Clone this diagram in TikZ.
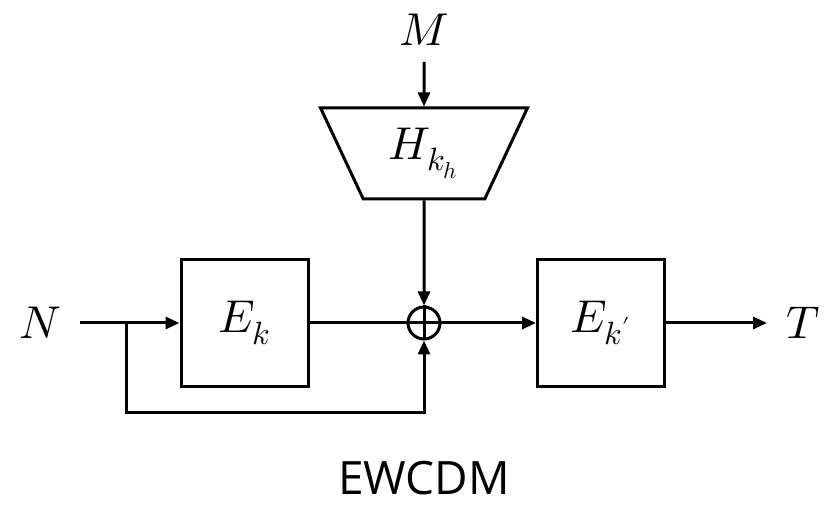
\documentclass[tikz,border=0pt]{standalone}
\usepackage{fontspec}
\usepackage{unicode-math}
\setsansfont{Open Sans}
\usetikzlibrary{shapes.geometric, arrows.meta}

\begin{document}
\begin{tikzpicture}[x=0.5pt, y=-0.5pt, line width=1.5pt,
    >={Triangle[length=7pt, width=6pt]},
    every node/.style={font=\fontsize{23}{27}\selectfont},
    blockbox/.style={draw, minimum width=63.5pt, minimum height=63.5pt, inner sep=0pt},
    hashbox/.style={draw, trapezium, trapezium angle=65, shape border rotate=180,
        trapezium stretches=true, minimum width=103.5pt, minimum height=45.5pt, inner sep=2pt},
    xorop/.style={draw, circle, minimum size=16pt, inner sep=0pt}]
    \useasboundingbox (0,0) rectangle (834,506);

    % inputs and outputs
    \node (msg) at (424,30) {$M$};
    \node (nin) at (40,323) {$N$};
    \node (tag) at (803,323) {$T$};
    \coordinate (msgend) at (424,62);
    \coordinate (inend) at (80,323);
    \coordinate (split) at (126,323);
    \coordinate (loop) at (424,413);
    \coordinate (outend) at (767,323);

    % blocks
    \node[hashbox] (hash) at (424,153.5) {$H_{k_h}$};
    \node[blockbox] (ek) at (244.5,323) {$E_k$};
    \node[blockbox] (ekp) at (601,323) {$E_{k'}$};
    \node[xorop] (xor) at (424,323) {};

    % connectors
    \draw[->] (msgend) -- (hash.north);
    \draw[->] (hash.south) -- (xor.north);
    \draw (inend) -- (split);
    \draw[->] (split) -- (ek.west);
    \draw[->] (split) |- (loop) -- (xor.south);
    \draw (ek.east) -- (xor.west);
    \draw[->] (xor.east) -- (ekp.west);
    \draw[->] (ekp.east) -- (outend);
    \draw (xor.north) -- (xor.south) (xor.west) -- (xor.east);

    \node[font=\sffamily\fontsize{23}{28}\selectfont, inner sep=1pt] (title) at (424,478) {EWCDM};
\end{tikzpicture}
\end{document}
